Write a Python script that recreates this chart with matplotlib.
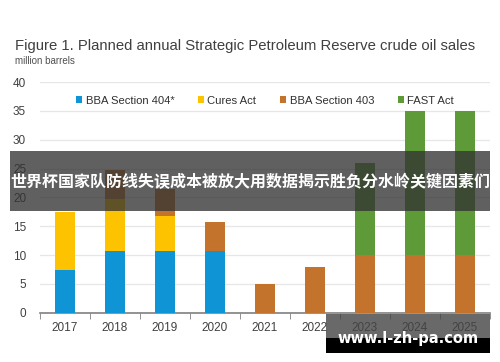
import matplotlib.pyplot as plt
from matplotlib.patches import Rectangle

plt.rcParams['font.family'] = ['Liberation Sans', 'DejaVu Sans']

years = ['2017', '2018', '2019', '2020', '2021', '2022', '2023', '2024', '2025']
bba404 = [7.4, 10.7, 10.7, 10.7, 0, 0, 0, 0, 0]
cures = [10, 9, 6, 0, 0, 0, 0, 0, 0]
bba403 = [0, 5, 4.8, 5, 5, 8, 10, 10, 10]
fast = [0, 0, 0, 0, 0, 0, 16, 25, 25]

series = [('BBA Section 404*', bba404, '#0f95d6'),
          ('Cures Act', cures, '#fdc200'),
          ('BBA Section 403', bba403, '#c4732c'),
          ('FAST Act', fast, '#5e9a37')]

fig = plt.figure(figsize=(5, 3.62), dpi=100)
ax = fig.add_axes([0.08, 0.136, 0.9, 0.637])

x = range(len(years))
bottom = [0] * len(years)
for name, vals, col in series:
    ax.bar(x, vals, bottom=bottom, width=0.39, color=col, label=name, zorder=3)
    bottom = [b + v for b, v in zip(bottom, vals)]

ax.set_xlim(-0.5, 8.5)
ax.set_ylim(0, 40)
ax.set_yticks(range(0, 41, 5))
ax.set_xticks(list(x))
ax.set_xticklabels(years)
ax.set_xticks([i - 0.5 for i in range(10)], minor=True)
ax.tick_params(axis='x', which='major', length=0, labelsize=8.5, colors='#404040', pad=7)
ax.tick_params(axis='x', which='minor', length=4, color='#808080', direction='out')
ax.tick_params(axis='y', length=0, labelsize=8.5, colors='#404040', pad=10)
ax.grid(axis='y', color='#e6e6e6', linewidth=0.9, zorder=0)
for s in ['top', 'right', 'left']:
    ax.spines[s].set_visible(False)
ax.spines['bottom'].set_color('#808080')
ax.spines['bottom'].set_linewidth(1.2)

ax.legend(loc='upper center', bbox_to_anchor=(0.5, 0.985), ncol=4, frameon=False,
          fontsize=8.1, handlelength=0.55, handleheight=0.55, handletextpad=0.3,
          columnspacing=2.1, labelcolor='#303030')

fig.text(0.03, 0.862, 'Figure 1. Planned annual Strategic Petroleum Reserve crude oil sales',
         fontsize=10.7, color='#404040', va='baseline')
fig.text(0.03, 0.822, 'million barrels', fontsize=7, color='#505050', va='baseline')

# overlay banner
fig.patches.append(Rectangle((0.02, 1 - 211 / 362), 0.96, 60 / 362, transform=fig.transFigure,
                             facecolor='#333333', alpha=0.78, zorder=10))
fig.text(0.5, 1 - 182 / 362, '世界杯国家队防线失误成本被放大用数据揭示胜负分水岭关键因素们',
         family=['Noto Sans CJK SC', 'DejaVu Sans'], fontweight='bold', fontsize=11.5,
         color='white', ha='center', va='center', zorder=11)

# watermark
fig.patches.append(Rectangle((326 / 500, 1 - 338 / 362), 164 / 500, 24 / 362,
                             transform=fig.transFigure, facecolor='#444444', alpha=0.8, zorder=10))
fig.patches.append(Rectangle((326 / 500, 1 - 353 / 362), 164 / 500, 15 / 362,
                             transform=fig.transFigure, facecolor='black', zorder=10))
fig.text(408 / 500, 1 - 339 / 362, 'www.l-zh-pa.com', fontsize=10.5, fontweight='bold',
         family=['DejaVu Sans'], color='white', ha='center', va='center', zorder=11)

fig.savefig('out.png', dpi=100)
